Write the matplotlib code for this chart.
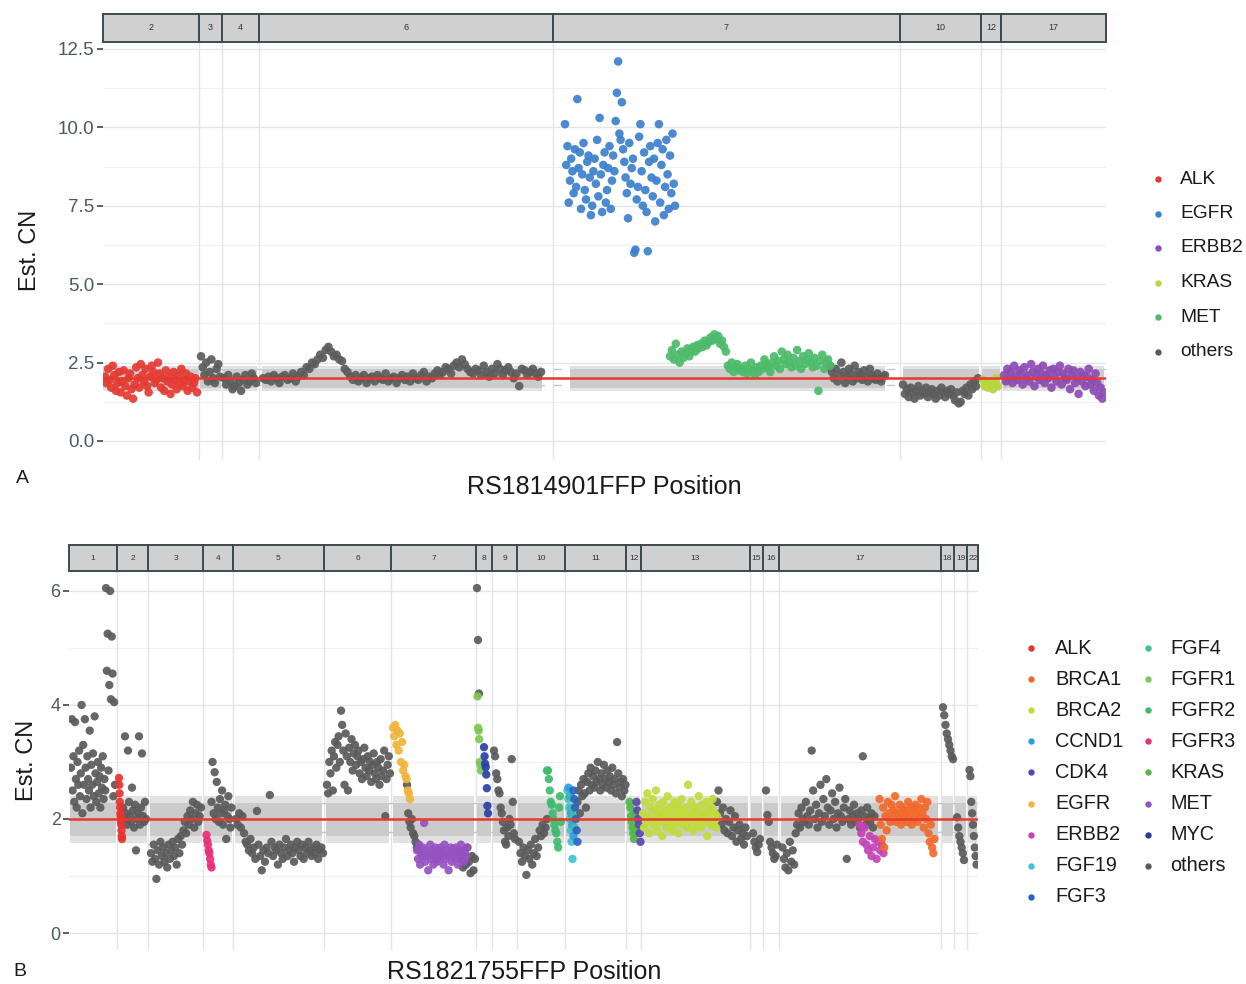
import matplotlib
matplotlib.use('Agg')
import matplotlib.pyplot as plt
import numpy as np
from matplotlib.patches import Rectangle

plt.rcParams['font.family'] = ['Liberation Sans', 'DejaVu Sans']

# ---------------- DATA: panel A (RS1814901FFP) ----------------
chroms_A = ['2', '3', '4', '6', '7', '10', '12', '17']
chrom_len_A = [96, 23, 37, 294, 347, 81, 20, 105]
band_start_A = [0, 1, 1, 3, 17, 3, 1, 2]
band_end_A = [96, 22, 35, 283, 332, 79, 19, 103]
genes_A = ['ALK', 'EGFR', 'ERBB2', 'KRAS', 'MET', 'others']
colors_A = ['#e53a33', '#3b7fcc', '#8e4bb5', '#b8d63a', '#4cbb6a', '#5c5c5c']

alk_A = [2.05, 1.85, 2.3, 1.95, 1.7, 2.4, 2.1, 1.6, 1.85, 2.2, 1.55, 1.9, 2.25, 1.75, 1.45,
         2.0, 2.15, 1.65, 1.35, 1.8, 2.35, 2.0, 1.7, 2.45, 2.1, 1.9, 2.3, 1.75, 1.55, 2.05,
         2.4, 2.2, 1.85, 1.95, 2.5, 2.15, 1.7, 2.0, 1.6, 2.25, 1.9, 2.05, 1.5, 1.8, 2.2,
         1.95, 1.65, 2.1, 1.85, 2.3, 1.75, 1.95, 2.15, 1.6, 1.9, 2.05, 1.7, 1.85, 2.0, 1.55]
chr3_A = [2.7, 2.35, 2.1, 2.5, 1.9, 2.2, 2.6, 2.0, 1.85, 2.3, 2.45, 2.05]
chr4_A = [2.0, 1.8, 2.1, 1.9, 1.65, 1.75, 2.05, 1.85, 1.6, 1.95, 2.1, 1.8, 1.9, 2.15, 2.0, 1.85]
chr6_A = [2.0, 1.95, 2.05, 1.9, 2.1, 2.0, 1.85, 2.05, 2.1, 1.95, 2.0, 2.15, 1.9, 2.05, 2.2,
          2.1, 2.35, 2.3, 2.5, 2.45, 2.6, 2.75, 2.65, 2.9, 3.0, 2.85, 2.7, 2.75, 2.6, 2.55,
          2.3, 2.2, 2.05, 1.95, 2.1, 1.9, 2.0, 2.1, 1.85, 2.0, 2.05, 1.9, 2.1, 2.0, 1.95,
          2.15, 1.9, 2.0, 2.05, 1.85, 2.0, 2.1, 1.95, 2.05, 1.9, 2.15, 2.0, 1.95, 2.1, 2.2,
          1.9, 2.05, 2.0, 2.15, 2.25, 2.1, 2.2, 2.35, 2.3, 2.15, 2.4, 2.5, 2.35, 2.6, 2.45,
          2.3, 2.2, 2.15, 2.3, 2.25, 2.1, 2.4, 2.2, 2.05, 2.3, 2.15, 2.45, 2.3, 2.1, 2.25,
          2.35, 2.2, 2.0, 2.15, 1.75, 2.3, 2.25, 2.1, 2.2, 2.3, 2.15, 2.05, 2.2]
egfr_A = [10.1, 8.8, 9.4, 7.6, 8.3, 9.0, 8.6, 7.9, 9.3, 8.1, 10.9, 8.7, 9.2, 7.4, 8.5, 9.5,
          8.0, 7.7, 8.9, 9.1, 8.4, 7.2, 7.5, 8.6, 9.0, 8.2, 9.6, 7.8, 10.3, 8.5, 7.3, 8.8,
          9.2, 7.6, 8.0, 8.7, 9.4, 7.4, 8.3, 9.1, 8.6, 10.2, 11.1, 12.1, 9.8, 9.6, 10.8, 9.3,
          8.9, 8.4, 7.9, 7.1, 9.5, 8.2, 8.7, 9.0, 6.0, 6.1, 7.7, 8.1, 9.7, 10.1, 8.6, 7.5,
          9.2, 8.0, 7.3, 6.05, 8.9, 9.4, 8.4, 7.8, 9.0, 7.0, 8.3, 9.5, 10.1, 7.6, 8.8, 9.3,
          7.2, 8.1, 9.6, 8.5, 7.4, 9.1, 7.9, 9.8, 8.2, 7.5]
met_A = [2.7, 2.9, 2.6, 3.1, 2.75, 2.5, 2.85, 2.65, 2.8, 2.95, 2.7, 2.9, 3.0, 2.85, 3.05,
         2.95, 3.1, 3.0, 3.2, 3.05, 3.15, 3.3, 3.2, 3.4, 3.25, 3.35, 3.1, 3.2, 3.0, 2.85,
         2.4, 2.3, 2.5, 2.2, 2.35, 2.45, 2.25, 2.3, 2.2, 2.4, 2.15, 2.3, 2.5, 2.25, 2.1,
         2.35, 2.2, 2.4, 2.3, 2.6, 2.45, 2.35, 2.2, 2.5, 2.7, 2.4, 2.55, 2.3, 2.85, 2.6,
         2.45, 2.75, 2.5, 2.35, 2.65, 2.4, 2.9, 2.55, 2.3, 2.7, 2.45, 2.6, 2.8, 2.5, 2.35,
         2.65, 2.4, 1.6, 2.55, 2.75, 2.3, 2.5, 2.6, 2.4]
chr7_A = [2.4, 2.2, 2.0, 2.3, 1.9, 2.1, 2.5, 2.2, 1.85, 2.05, 2.3, 2.15, 1.9, 2.4, 2.0,
          2.2, 2.1, 1.95, 2.25, 2.05, 1.9, 2.3, 2.1, 2.0, 1.95, 2.15, 2.0, 1.9, 2.05, 2.1]
chr10_A = [1.8, 1.5, 1.65, 1.4, 1.7, 1.55, 1.35, 1.6, 1.75, 1.45, 1.6, 1.5, 1.7, 1.4, 1.55,
           1.65, 1.5, 1.35, 1.6, 1.45, 1.7, 1.55, 1.4, 1.6, 1.5, 1.65, 1.45, 1.3, 1.55, 1.2,
           1.25, 1.6, 1.5, 1.7, 1.45, 1.8, 1.65, 1.9, 1.75, 2.0]
kras_A = [1.95, 1.75, 1.85, 1.7, 1.9, 1.8, 1.65, 1.85, 2.0, 1.75]
erbb2_A = [2.1, 1.9, 2.3, 2.0, 2.2, 1.85, 2.4, 2.05, 1.95, 2.25, 2.15, 1.8, 2.35, 2.0, 2.1,
           1.9, 2.45, 2.2, 1.75, 2.05, 2.3, 1.95, 2.15, 2.4, 1.85, 2.1, 2.0, 2.25, 1.7, 2.3,
           2.05, 1.9, 2.2, 2.4, 1.8, 2.15, 2.0, 1.95, 2.3, 1.65, 2.1, 2.25, 1.85, 2.0, 1.5,
           2.2, 1.9, 2.1, 1.75, 2.05, 2.3, 1.8, 1.95, 1.6, 2.15, 1.85, 1.45, 1.7, 1.35, 1.55]

# (chromosome, gene, start, end, values)
segs_A = [
    ('3', 'others', 2, 21, chr3_A),
    ('4', 'others', 2, 34, chr4_A),
    ('6', 'others', 4, 282, chr6_A),
    ('7', 'others', 277, 332, chr7_A),
    ('10', 'others', 3, 78, chr10_A),
    ('2', 'ALK', 2, 94, alk_A),
    ('7', 'EGFR', 12, 122, egfr_A),
    ('7', 'MET', 117, 277, met_A),
    ('12', 'KRAS', 2, 17, kras_A),
    ('17', 'ERBB2', 3, 103, erbb2_A),
]

# ---------------- DATA: panel B (RS1821755FFP) ----------------
chroms_B = ['1', '2', '3', '4', '5', '6', '7', '8', '9', '10', '11', '12', '13', '15', '16',
            '17', '18', '19', '22']
chrom_len_B = [48, 31, 55.5, 29.5, 91, 67, 85, 16, 25, 48.5, 61, 14.5, 109, 13, 16.5, 161.5,
               13, 13.5, 10.5]
band_start_B = [1, 1, 2, 1, 2, 2, 2, 1, 1, 1, 1, 1, 1, 1, 1, 2, 1, 1, 1]
band_end_B = [47, 30, 54, 28.5, 89, 65, 83, 15, 24, 47.5, 60, 13.5, 107, 12, 15.5, 159, 12,
              12.5, 9.5]
genes_B = ['ALK', 'BRCA1', 'BRCA2', 'CCND1', 'CDK4', 'EGFR', 'ERBB2', 'FGF19', 'FGF3',
           'FGF4', 'FGFR1', 'FGFR2', 'FGFR3', 'KRAS', 'MET', 'MYC', 'others']
colors_B = ['#e8332e', '#f26a2b', '#c2dc3b', '#2f9fe0', '#5b46b0', '#f0b43a', '#c543b5',
            '#3ec3d6', '#2864c4', '#3fbf9e', '#7cc850', '#3ebb6e', '#ea2f7a', '#53b848',
            '#9552c2', '#2b3ea8', '#5a5a5a']

chr1_B = [2.9, 3.75, 2.5, 3.1, 2.3, 3.7, 2.7, 2.2, 3.0, 2.6, 3.2, 2.4, 2.8, 4.0, 2.1, 3.3,
          2.6, 3.75, 2.9, 2.35, 3.1, 2.7, 2.5, 3.55, 2.2, 2.95, 2.6, 3.15, 2.4, 3.8, 2.8,
          2.3, 2.65, 3.0, 2.45, 2.75, 2.2, 2.9, 2.55, 3.1, 2.35, 2.7, 2.5, 6.05, 4.6, 5.25,
          2.85, 4.35, 6.0, 4.1, 5.2, 4.55, 2.4, 4.05, 2.6]
alk_B = [2.72, 2.6, 2.45, 2.3, 2.2, 2.1, 2.05, 2.0, 1.95, 1.9, 1.8, 1.7, 1.65]
chr2_B = [2.2, 2.0, 3.45, 2.1, 1.9, 3.2, 2.3, 2.05, 1.95, 2.55, 2.15, 1.85, 2.25, 1.45, 2.0,
          2.1, 3.45, 1.9, 2.2, 3.15, 2.05, 1.95, 2.3, 2.0]
chr3_B = [1.4, 1.25, 1.55, 1.3, 0.95, 1.45, 1.2, 1.6, 1.35, 1.5, 1.25, 1.4, 1.15, 1.55, 1.3,
          1.45, 1.6, 1.35, 1.5, 1.2, 1.65, 1.4, 1.7, 1.55, 1.8, 1.95, 1.75, 2.05, 1.9, 2.15,
          2.0, 2.3, 1.85, 2.1, 2.25, 1.95, 2.05, 2.2]
fgfr3_B = [1.72, 1.62, 1.55, 1.45, 1.4, 1.3, 1.2, 1.15]
chr4_B = [2.3, 3.0, 2.1, 2.82, 2.0, 2.65, 2.2, 1.95, 2.35, 2.1, 2.5, 1.9, 2.15, 2.25, 1.65,
          2.05, 2.4, 2.0, 1.85, 2.2]
chr5_B = [2.0, 1.9, 2.1, 1.85, 2.05, 1.75, 1.6, 1.55, 1.45, 1.65, 1.4, 1.5, 1.3, 2.14, 1.55,
          1.35, 1.1, 1.45, 1.25, 1.5, 1.4, 2.42, 1.6, 1.35, 1.5, 1.45, 1.2, 1.55, 1.4, 1.3,
          1.5, 1.65, 1.35, 1.45, 1.55, 1.4, 1.25, 1.5, 1.6, 1.45, 1.35, 1.55, 1.3, 1.5, 1.4,
          1.6, 1.45, 1.35, 1.5, 1.4, 1.55, 1.3, 1.45, 1.5, 1.4]
chr6_B = [2.6, 2.45, 3.0, 2.8, 3.2, 2.5, 3.1, 3.35, 2.9, 3.3, 3.45, 3.0, 3.9, 3.65, 3.2, 2.6,
          3.5, 3.1, 2.5, 3.25, 3.0, 3.4, 2.85, 3.15, 3.3, 2.95, 3.1, 3.2, 2.8, 3.0, 2.7, 3.05,
          3.25, 2.9, 2.75, 3.1, 2.85, 3.0, 2.65, 2.95, 3.15, 2.8, 2.7, 3.0, 2.9, 2.6, 3.05,
          2.75, 2.85, 3.2, 2.05, 2.7, 2.95, 3.1, 2.8]
egfr_B = [3.6, 3.45, 3.65, 3.3, 3.55, 3.2, 3.5, 3.0, 3.35, 2.85, 2.95, 2.75, 2.7, 2.5, 2.45,
          2.35]
chr7a_B = [2.6, 2.1, 1.95, 1.85, 2.0, 1.75, 1.7, 1.6, 1.5, 1.55]
met_B = [1.45, 1.3, 1.55, 1.2, 1.4, 1.35, 1.5, 1.93, 1.25, 1.45, 1.35, 1.1, 1.4, 1.55, 1.3,
         1.45, 1.2, 1.35, 1.5, 1.4, 1.25, 1.45, 1.3, 1.5, 1.35, 1.4, 1.2, 1.55, 1.3, 1.45,
         1.35, 1.1, 1.4, 1.5, 1.25, 1.45, 1.35, 1.3, 1.5, 1.4, 1.2, 1.45, 1.35, 1.55, 1.3,
         1.4, 1.25, 1.45, 1.35, 1.5]
chr7b_B = [1.45, 1.3, 1.15, 1.4, 1.2, 1.5, 1.25, 1.05, 1.35, 1.1, 1.3]
chr8_B = [6.05, 5.14, 4.2]
fgfr1_B = [4.15, 3.6, 3.55, 3.4, 3.0, 2.95, 2.85]
myc_B = [3.26, 3.1, 2.97, 2.91, 2.78, 2.54, 2.23, 2.1]
chr9_B = [3.2, 3.1, 2.8, 2.7, 2.5, 2.45, 2.2, 2.1, 1.95, 1.8, 1.6, 1.55, 1.85, 1.7, 2.0, 1.9,
          3.05, 2.3, 1.75, 1.65]
chr10_B = [1.6, 1.4, 1.25, 1.5, 1.35, 1.02, 1.45, 1.3, 1.55, 1.2, 1.4, 1.65, 1.35, 1.5, 1.8,
           1.7, 1.9, 1.75, 1.85, 2.0]
fgfr2_B = [2.85, 2.85, 2.7, 2.5, 2.3, 2.25, 2.1, 2.0, 1.9, 1.8, 1.75, 1.6, 1.5, 2.2, 2.4, 1.95]
fgf19_B = [2.5, 2.35, 2.2, 2.0, 1.8, 1.6, 1.3]
ccnd1_B = [2.55, 2.4, 2.1, 1.9, 1.7]
fgf4_B = [2.4, 2.2, 2.05, 1.85]
fgf3_B = [2.5, 2.35, 2.2, 2.0, 1.8, 1.6]
chr11_B = [2.3, 2.5, 2.1, 2.6, 2.4, 2.7, 2.45, 2.2, 2.65, 2.8, 2.5, 2.9, 2.6, 2.75, 2.55,
           2.85, 2.65, 3.0, 2.7, 2.5, 2.8, 2.6, 2.95, 2.7, 2.55, 2.85, 2.65, 2.75, 2.5, 2.9,
           2.6, 2.7, 2.45, 3.35, 2.8, 2.55, 2.65, 2.4, 2.7, 2.5, 2.6]
kras_B = [2.3, 2.2, 2.05, 1.95, 1.85, 1.75, 1.65, 2.1, 1.8]
cdk4_B = [2.3, 2.15, 2.0, 1.9, 1.75, 1.6]
brca2_B = [2.1, 1.85, 2.3, 1.95, 2.45, 2.05, 1.75, 2.2, 2.0, 2.35, 1.9, 2.15, 2.5, 1.8, 2.05,
           2.25, 1.95, 2.1, 1.7, 2.3, 2.0, 2.15, 1.85, 2.4, 2.05, 1.95, 2.2, 1.8, 2.1, 2.3,
           1.9, 2.0, 2.25, 1.75, 2.15, 2.05, 2.35, 1.9, 2.1, 2.0, 2.2, 1.85, 2.6, 2.05, 1.95,
           2.3, 2.1, 1.8, 2.2, 2.0, 2.15, 1.9, 2.4, 2.05, 1.85, 2.25, 2.1, 1.95, 2.0, 2.3,
           1.7, 2.15, 2.05, 1.9, 2.2, 2.35, 1.95, 2.1, 1.85, 2.05]
chr13_B = [2.3, 2.5, 2.1, 1.9, 2.2, 1.8, 2.0, 1.75, 1.95, 2.15, 1.7, 1.85, 2.05, 1.6, 1.8,
           1.9, 1.65, 1.75, 1.55, 1.85, 1.7]
chr15_B = [1.75, 1.6, 1.5, 1.42, 1.55, 1.65]
chr16_B = [2.5, 2.07, 1.95, 1.6, 1.5, 1.4, 1.3, 1.35, 1.55]
chr17_B = [1.5, 1.3, 1.15, 1.4, 1.1, 1.6, 1.25, 1.45, 1.2, 1.75, 1.9, 2.1, 1.85, 2.2, 2.0,
           1.95, 2.3, 2.05, 1.9, 2.15, 3.2, 2.5, 2.0, 2.25, 1.85, 2.1, 2.6, 1.95, 2.35, 2.05,
           2.7, 2.2, 1.9, 2.15, 2.45, 2.0, 2.3, 1.85, 2.1, 2.55, 2.05, 1.95, 2.2, 2.35, 1.3,
           2.0, 2.15, 1.9, 2.05, 2.25, 1.95, 2.1, 2.0, 1.85, 2.15, 3.1, 2.05, 1.9, 2.2, 2.0,
           1.95, 2.1, 1.85, 2.05]
erbb2_B = [1.9, 1.75, 1.6, 1.85, 1.55, 1.45, 1.7, 1.35, 1.5, 1.65, 1.3, 1.6, 1.45, 1.55, 1.4]
brca1_B = [2.35, 1.9, 1.65, 2.2, 1.5, 2.05, 1.8, 2.3, 2.1, 1.95, 2.25, 2.0, 2.15, 2.4, 1.95,
           2.1, 2.05, 2.25, 1.9, 2.2, 2.0, 2.15, 2.1, 1.95, 2.3, 2.05, 2.2, 1.9, 2.15, 2.0,
           2.25, 2.1, 1.95, 2.2, 2.05, 2.35, 2.1, 1.85, 2.2, 2.0, 2.3, 1.75, 1.6, 1.9, 1.5,
           1.4, 1.65]
chr18_B = [3.96, 3.82, 3.65, 3.5, 3.4, 3.3, 3.2, 3.1, 3.05]
chr19_B = [2.03, 1.85, 1.7, 1.6, 1.5, 1.4, 1.28]
chr22_B = [2.86, 2.75, 2.3, 2.1, 1.9, 1.7, 1.5, 1.35, 1.2]

segs_B = [
    ('1', 'others', 2, 46, chr1_B),
    ('2', 'others', 6, 29, chr2_B),
    ('3', 'others', 3, 53, chr3_B),
    ('4', 'others', 8, 28, chr4_B),
    ('5', 'others', 3, 90, chr5_B),
    ('6', 'others', 3, 66, chr6_B),
    ('7', 'others', 16, 27, chr7a_B),
    ('7', 'others', 69, 84, chr7b_B),
    ('8', 'others', 1, 3, chr8_B),
    ('9', 'others', 2, 23, chr9_B),
    ('10', 'others', 2, 30, chr10_B),
    ('11', 'others', 12, 60, chr11_B),
    ('13', 'others', 76, 106, chr13_B),
    ('15', 'others', 3, 10, chr15_B),
    ('16', 'others', 3, 14, chr16_B),
    ('17', 'others', 3, 95, chr17_B),
    ('18', 'others', 2, 12, chr18_B),
    ('19', 'others', 3, 10, chr19_B),
    ('22', 'others', 2, 9, chr22_B),
    ('2', 'ALK', 2, 5, alk_B),
    ('4', 'FGFR3', 3, 8, fgfr3_B),
    ('7', 'EGFR', 2, 19, egfr_B),
    ('7', 'MET', 26, 76, met_B),
    ('8', 'FGFR1', 1.5, 5, fgfr1_B),
    ('8', 'MYC', 8, 12, myc_B),
    ('10', 'FGFR2', 30, 44, fgfr2_B),
    ('11', 'FGF19', 2, 7, fgf19_B),
    ('11', 'CCND1', 3, 8, ccnd1_B),
    ('11', 'FGF4', 5, 9, fgf4_B),
    ('11', 'FGF3', 8, 12, fgf3_B),
    ('12', 'KRAS', 3, 9, kras_B),
    ('12', 'CDK4', 10, 14, cdk4_B),
    ('13', 'BRCA2', 2, 76, brca2_B),
    ('17', 'ERBB2', 80, 104, erbb2_B),
    ('17', 'BRCA1', 100, 155, brca1_B),
]

band_lo, band_hi = 1.7, 2.28
band_lo2, band_hi2 = 1.58, 2.4
dash_lo, dash_hi = 1.77, 2.28
ref_cn = 2.0

# ---------------- drawing ----------------
W, H = 1246, 984
fig = plt.figure(figsize=(W / 100, H / 100), dpi=100)


def box(x0, y0, x1, y1):
    return [x0 / W, 1 - y1 / H, (x1 - x0) / W, (y1 - y0) / H]


def draw_panel(plot_box, strip_box, chroms, lens, bstart, bend, segs, genes, colors,
               ylim, major, minor, ticklabels, tick_fs, strip_fs, msize):
    offs = np.concatenate([[0], np.cumsum(lens)])
    total = offs[-1]
    cidx = {c: i for i, c in enumerate(chroms)}
    cmap = dict(zip(genes, colors))

    ax = fig.add_axes(box(*plot_box))
    ax.set_xlim(0, total)
    ax.set_ylim(*ylim)
    for s in ax.spines.values():
        s.set_visible(False)
    ax.set_xticks([])
    ax.set_yticks(major)
    ax.set_yticklabels(ticklabels, fontsize=tick_fs, color='#4b5a62')
    ax.tick_params(axis='y', length=4, width=1.1, color='#333333', pad=2)
    for v in minor:
        ax.axhline(v, color='#eef2f4', lw=0.8, zorder=0)
    for v in major:
        ax.axhline(v, color='#e0e7eb', lw=1.0, zorder=0)
    for o in offs[1:-1]:
        ax.axvline(o, color='#dfe5e9', lw=1.0, zorder=0.5)
    for v in (dash_lo, dash_hi):
        ax.axhline(v, color='#bcc6cc', lw=1.0, ls=(0, (6, 6)), zorder=0.6)
    for i in range(len(chroms)):
        x0, x1 = offs[i] + bstart[i], offs[i] + bend[i]
        ax.fill_between([x0, x1], band_lo2, band_hi2, color='#e2e2e2', lw=0, zorder=1)
        ax.fill_between([x0, x1], band_lo, band_hi, color='#cbcbcb', lw=0, zorder=1.1)
    for chrom, gene, s0, s1, vals in segs:
        o = offs[cidx[chrom]]
        xs = o + np.linspace(s0, s1, len(vals))
        ax.scatter(xs, vals, s=msize, color=cmap[gene], edgecolors='none', alpha=0.92,
                   zorder=3 if gene != 'others' else 2.5)
    ax.axhline(ref_cn, color='#e8392b', lw=1.8, zorder=4)

    sx = fig.add_axes(box(*strip_box))
    sx.set_xlim(0, total)
    sx.set_ylim(0, 1)
    sx.axis('off')
    for i, c in enumerate(chroms):
        sx.add_patch(Rectangle((offs[i], 0), lens[i], 1, facecolor='#d0d0d0',
                               edgecolor='#3b4a51', lw=1.4, clip_on=False))
        sx.text(offs[i] + lens[i] / 2, 0.5, c, ha='center', va='center',
                fontsize=strip_fs, color='#333333')
    return ax


draw_panel((103, 42, 1106, 460), (103, 14, 1106, 42), chroms_A, chrom_len_A,
           band_start_A, band_end_A, segs_A, genes_A, colors_A,
           (-0.606, 12.72), [0, 2.5, 5, 7.5, 10, 12.5], [1.25, 3.75, 6.25, 8.75, 11.25],
           ['0.0', '2.5', '5.0', '7.5', '10.0', '12.5'], 13.5, 6.5, 38)

draw_panel((69, 571, 978, 950), (69, 545, 978, 571), chroms_B, chrom_len_B,
           band_start_B, band_end_B, segs_B, genes_B, colors_B,
           (-0.298, 6.35), [0, 2, 4, 6], [1, 3, 5],
           ['0', '2', '4', '6'], 13, 6, 36)

# axis titles & panel letters
fig.text(30 / W, 1 - 250 / H, 'Est. CN', rotation=90, ha='center', va='center',
         fontsize=17, color='#1a1a1a')
fig.text(27 / W, 1 - 760 / H, 'Est. CN', rotation=90, ha='center', va='center',
         fontsize=17, color='#1a1a1a')
fig.text(604 / W, 1 - 487 / H, 'RS1814901FFP Position', ha='center', va='center',
         fontsize=18, color='#1a1a1a')
fig.text(524 / W, 1 - 972 / H, 'RS1821755FFP Position', ha='center', va='center',
         fontsize=18, color='#1a1a1a')
fig.text(22 / W, 1 - 478 / H, 'A', ha='center', va='center', fontsize=14, color='#1a1a1a')
fig.text(20 / W, 1 - 971 / H, 'B', ha='center', va='center', fontsize=14, color='#1a1a1a')


def legend_entry(mx, tx, y, color, label, fs):
    fig.lines.append(plt.Line2D([mx / W], [1 - y / H], marker='o', markersize=4.6,
                                color=color, markeredgewidth=0, linestyle='none',
                                transform=fig.transFigure))
    fig.text(tx / W, 1 - y / H, label, ha='left', va='center', fontsize=fs,
             color='#1a1a1a')


for i, (g, c) in enumerate(zip(genes_A, colors_A)):
    legend_entry(1158, 1180, 179 + 34.5 * i, c, g, 13.8)

for i, (g, c) in enumerate(zip(genes_B, colors_B)):
    col, row = divmod(i, 9)
    mx = 1031 if col == 0 else 1148
    tx = 1055 if col == 0 else 1170
    legend_entry(mx, tx, 648 + 31.1 * row, c, g, 14.3)

fig.savefig('out.png', dpi=100)
